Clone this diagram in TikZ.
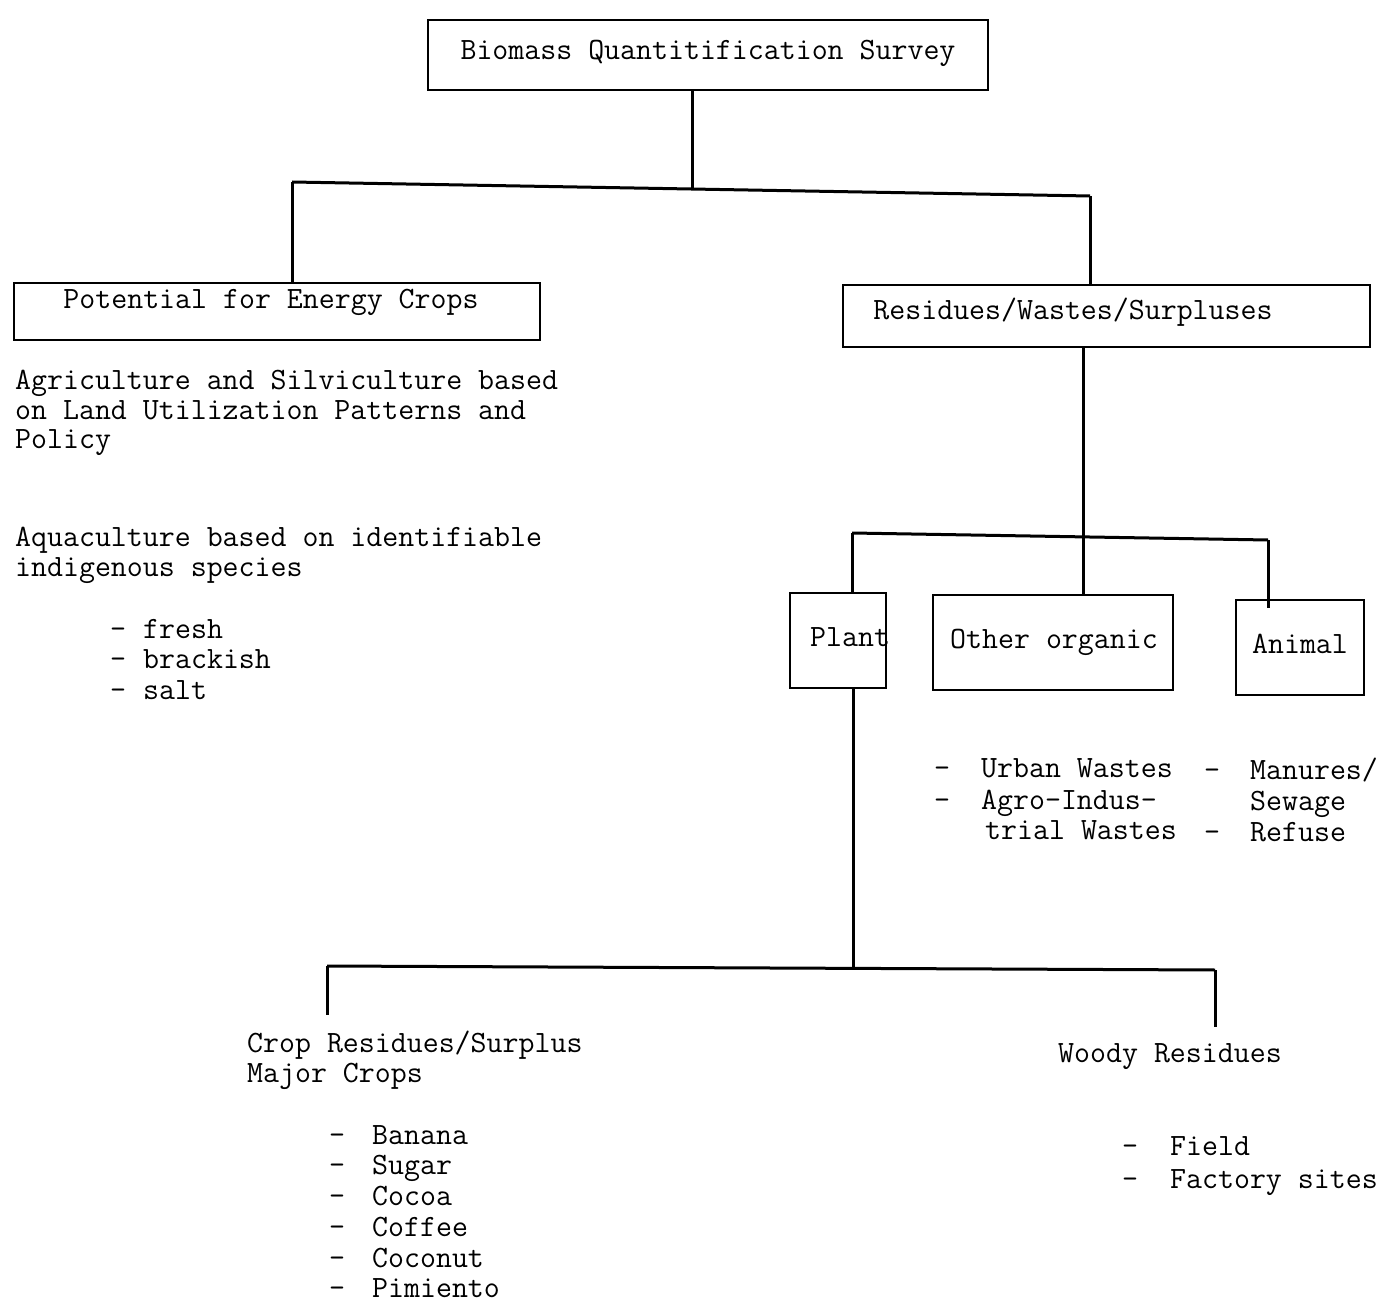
\documentclass[tikz,border=0pt]{standalone}
\usepackage{fontspec}
\begin{document}
\begin{tikzpicture}[x=1pt,y=-1pt,
  box/.style={draw, line width=2pt, inner sep=0pt},
  conn/.style={line width=3pt},
  txt/.style={inner sep=0pt, anchor=base west, font=\fontsize{31}{30}\selectfont\ttfamily},
  ctxt/.style={txt, anchor=base}]
\useasboundingbox (0,0) rectangle (1382,1305);
% boxes
\node[box, minimum width=560pt, minimum height=70pt] (survey) at (708,55) {};
\node[box, minimum width=526pt, minimum height=57pt] (potential) at (277,311.5) {};
\node[box, minimum width=527pt, minimum height=62pt] (residues) at (1106.5,316) {};
\node[box, minimum width=96pt, minimum height=95pt] (plant) at (838,640.5) {};
\node[box, minimum width=240pt, minimum height=95pt] (other) at (1053,642.5) {};
\node[box, minimum width=128pt, minimum height=95pt] (animal) at (1300,647.5) {};
% box texts
\node[ctxt] (surveyt) at (708,60) {Biomass Quantitification Survey};
\node[ctxt] (potentialt) at (271,309) {Potential for Energy Crops};
\node[ctxt] (residuest) at (1073,320) {Residues/Wastes/Surpluses};
\node[txt] (plantt) at (810,646) {Plant};
\node[ctxt] (othert) at (1054,648) {Other organic};
\node[ctxt] (animalt) at (1300,653) {Animal};
% connectors level 1
\coordinate (j1) at (692,189);
\coordinate (b1l) at (292,182);
\coordinate (b1r) at (1090,196);
\draw[conn] (survey.south -| j1) -- (j1);
\draw[conn] (b1l) -- (b1r);
\draw[conn] (b1l) -- (b1l |- potential.north);
\draw[conn] (b1r) -- (b1r |- residues.north);
% level 2
\coordinate (j2) at (1083,536);
\coordinate (b2l) at (852,533);
\coordinate (b2r) at (1268,540);
\coordinate (animalin) at (1268,608);
\draw[conn] (residues.south -| j2) -- (j2);
\draw[conn] (b2l) -- (b2r);
\draw[conn] (b2l) -- (b2l |- plant.north);
\draw[conn] (j2) -- (j2 |- other.north);
\draw[conn] (b2r) -- (animalin);
% level 3
\coordinate (j3) at (853,968);
\coordinate (b3l) at (327,966);
\coordinate (b3r) at (1215,970);
\coordinate (cropend) at (327,1015);
\coordinate (woodyend) at (1215,1027);
\draw[conn] (plant.south -| j3) -- (j3);
\draw[conn] (b3l) -- (b3r);
\draw[conn] (b3l) -- (cropend);
\draw[conn] (b3r) -- (woodyend);
% left texts
\node[txt] (agr1) at (15,390) {Agriculture and Silviculture based};
\node[txt] (agr2) at (15,420) {on Land Utilization Patterns and};
\node[txt] (agr3) at (15,449) {Policy};
\node[txt] (aq1) at (15,546) {Aquaculture based on identifiable};
\node[txt] (aq2) at (15,576) {indigenous species};
\node[txt] (fresh) at (110,638) {\makebox[33pt][l]{-}fresh};
\node[txt] (brackish) at (110,668) {\makebox[33pt][l]{-}brackish};
\node[txt] (salt) at (110,699) {\makebox[33pt][l]{-}salt};
% other organic / animal lists
\node[txt] (urban) at (934,777) {\makebox[47pt][l]{-}Urban Wastes};
\node[txt] (agro) at (934,809) {\makebox[47pt][l]{-}Agro-Indus-};
\node[txt] (trial) at (985,839) {trial Wastes};
\node[txt] (manures) at (1204,779) {\makebox[46pt][l]{-}Manures/};
\node[txt] (sewage) at (1250,810) {Sewage};
\node[txt] (refuse) at (1204,841) {\makebox[46pt][l]{-}Refuse};
% crop residues
\node[txt] (crop1) at (247,1052) {Crop Residues/Surplus};
\node[txt] (crop2) at (247,1082) {Major Crops};
\node[txt] (banana) at (329,1144) {\makebox[43pt][l]{-}Banana};
\node[txt] (sugar) at (329,1174) {\makebox[43pt][l]{-}Sugar};
\node[txt] (cocoa) at (329,1205) {\makebox[43pt][l]{-}Cocoa};
\node[txt] (coffee) at (329,1236) {\makebox[43pt][l]{-}Coffee};
\node[txt] (coconut) at (329,1267) {\makebox[43pt][l]{-}Coconut};
\node[txt] (pimiento) at (329,1297) {\makebox[43pt][l]{-}Pimiento};
% woody
\node[txt] (woody) at (1058,1062) {Woody Residues};
\node[txt] (field) at (1122,1155) {\makebox[48pt][l]{-}Field};
\node[txt] (factory) at (1122,1188) {\makebox[48pt][l]{-}Factory sites};
\end{tikzpicture}
\end{document}
